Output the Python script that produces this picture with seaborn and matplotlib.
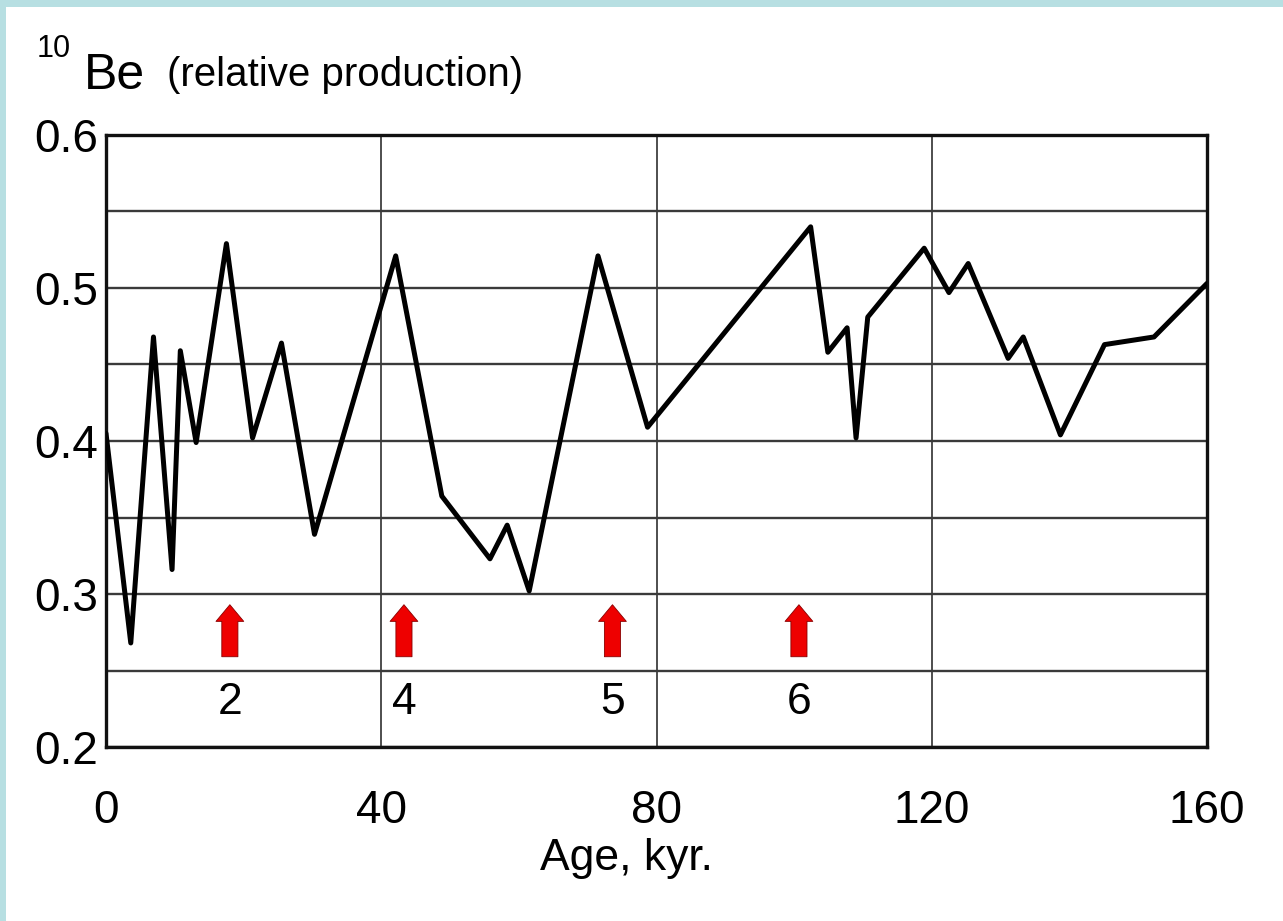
import matplotlib
matplotlib.use("Agg")
import matplotlib.pyplot as plt
from matplotlib.patches import Rectangle
from matplotlib.ticker import MultipleLocator
import seaborn as sns
import pandas as pd

# 10Be relative production versus age
age_kyr = [0.0, 3.6, 6.9, 9.6, 10.8, 13.1, 17.5, 21.3, 25.5, 30.3,
           42.1, 48.8, 55.8, 58.3, 61.5, 71.5, 78.7, 102.4, 104.9, 107.7,
           109.0, 110.7, 118.9, 122.5, 125.3, 131.1, 133.3, 138.7, 145.1,
           152.3, 160.0]
be10 = [0.405, 0.268, 0.468, 0.316, 0.459, 0.399, 0.529, 0.402, 0.464, 0.339,
        0.521, 0.364, 0.323, 0.345, 0.302, 0.521, 0.409, 0.540, 0.458, 0.474,
        0.402, 0.481, 0.526, 0.497, 0.516, 0.454, 0.468, 0.404, 0.463,
        0.468, 0.503]

# marked events
event_ages = [18.0, 43.3, 73.6, 100.7]
event_labels = ["2", "4", "5", "6"]

x_ticks = [0, 40, 80, 120, 160]
y_ticks = [0.2, 0.3, 0.4, 0.5, 0.6]

df = pd.DataFrame({"age": age_kyr, "be": be10})

sns.set_style("white")
plt.rcParams["font.family"] = ["Liberation Sans", "DejaVu Sans"]
plt.rcParams["text.color"] = "black"
plt.rcParams["axes.labelcolor"] = "black"
plt.rcParams["xtick.color"] = "black"
plt.rcParams["ytick.color"] = "black"

fig = plt.figure(figsize=(12.83, 9.21), dpi=100)
fig.patch.set_facecolor("white")
# light frame strips along the top and left edges
fig.patches.append(Rectangle((0, 0), 6 / 1283, 1, transform=fig.transFigure,
                             facecolor="#b7dfe2", edgecolor="none", zorder=0))
fig.patches.append(Rectangle((0, 1 - 7 / 921), 1, 7 / 921, transform=fig.transFigure,
                             facecolor="#b7dfe2", edgecolor="none", zorder=0))

ax = fig.add_axes([106 / 1283, (921 - 747) / 921, 1101 / 1283, 612 / 921])

sns.lineplot(data=df, x="age", y="be", ax=ax, color="black", linewidth=3.6,
             sort=False, estimator=None, zorder=3)

ax.set_xlim(0, 160)
ax.set_ylim(0.2, 0.6)
ax.set_xticks(x_ticks)
ax.set_yticks(y_ticks)
ax.set_xticklabels([str(t) for t in x_ticks])
ax.set_yticklabels([f"{t:.1f}" for t in y_ticks])
ax.yaxis.set_minor_locator(MultipleLocator(0.05))
ax.grid(True, which="major", axis="x", color="#404040", linewidth=1.3)
ax.grid(True, which="both", axis="y", color="#3a3a3a", linewidth=1.7)
ax.tick_params(axis="both", which="both", length=0, labelsize=33,
               colors="black", labelcolor="black")
ax.tick_params(axis="x", pad=30)
ax.tick_params(axis="y", pad=6)
for s in ax.spines.values():
    s.set_color("#111111")
    s.set_linewidth(2.4)
    s.set_visible(True)

ax.set_xlabel("Age, kyr.", fontsize=32, color="black")
ax.xaxis.set_label_coords(0.473, -0.148)
ax.set_ylabel("")

# event arrows with their numbers
for a, lab in zip(event_ages, event_labels):
    ax.annotate("", xy=(a, 0.293), xytext=(a, 0.259),
                arrowprops=dict(arrowstyle="simple,head_length=0.6,head_width=1.0,tail_width=0.58",
                                mutation_scale=20, facecolor="#ee0000",
                                edgecolor="#880000", linewidth=0.6,
                                shrinkA=0, shrinkB=0), zorder=4)
    ax.text(a, 0.229, lab, ha="center", va="center", fontsize=32, color="black")

# axis title above the plot
fig.text(37 / 1283, 1 - 57 / 921, "10", fontsize=22, ha="left", va="baseline",
         color="black")
fig.text(84 / 1283, 1 - 89 / 921, "Be", fontsize=36, ha="left", va="baseline",
         color="black")
fig.text(167 / 1283, 1 - 86 / 921, "(relative production)", fontsize=29,
         ha="left", va="baseline", color="black")

fig.savefig("out.png", dpi=100, facecolor="white")
